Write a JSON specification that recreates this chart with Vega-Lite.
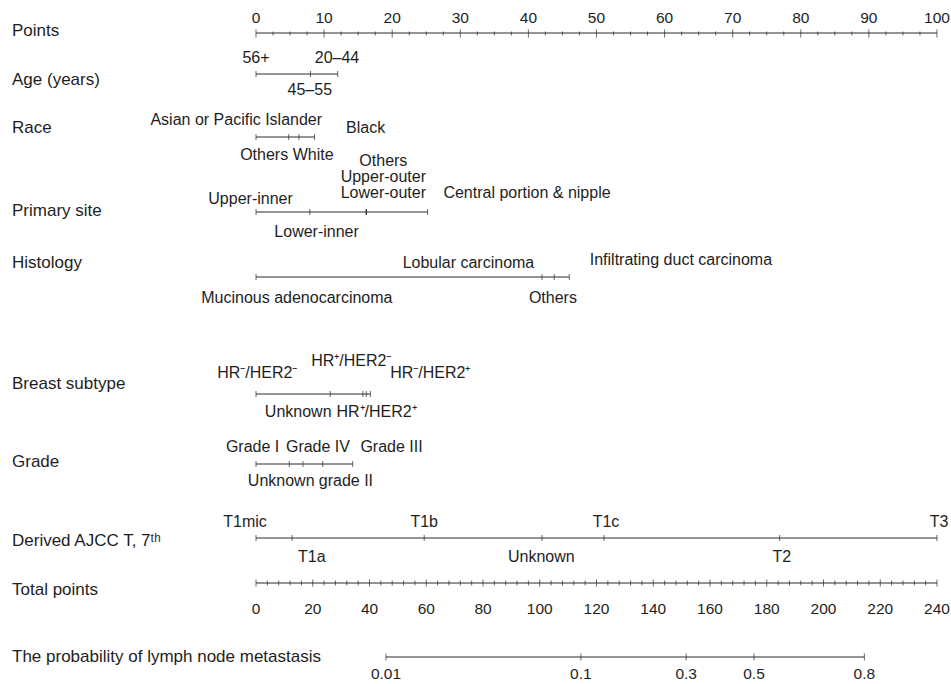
{
  "$schema": "https://vega.github.io/schema/vega-lite/v6.json",
  "width": 939,
  "height": 684,
  "autosize": "none",
  "padding": {"left": 12, "top": 0, "right": 0, "bottom": 0},
  "background": "white",
  "config": {
    "view": {"stroke": null},
    "text": {"font": "Liberation Sans", "color": "#1e1e1e", "baseline": "middle"},
    "rule": {"color": "#2a2a2a", "strokeWidth": 1},
    "tick": {"color": "#2a2a2a", "thickness": 1, "orient": "vertical"}
  },
  "datasets": {
    "rows": [
      {"var": "Points", "y": 33, "from": 0, "to": 100},
      {"var": "Age (years)", "y": 74, "from": 0, "to": 12},
      {"var": "Race", "y": 137, "from": 0, "to": 8.6},
      {"var": "Primary site", "y": 212, "from": 0, "to": 25.2},
      {"var": "Histology", "y": 277, "from": 0, "to": 46},
      {"var": "Breast subtype", "y": 394, "from": 0, "to": 16.8},
      {"var": "Grade", "y": 464, "from": 0, "to": 14.2},
      {"var": "Derived AJCC T, 7th", "y": 538, "from": 0, "to": 100}
    ],
    "total_rows": [
      {"var": "Total points", "y": 583, "from": 0, "to": 240},
      {"var": "The probability of lymph node metastasis", "y": 657, "from": 45.8, "to": 214.4}
    ],
    "names": [
      {"name": "Points", "y": 31},
      {"name": "Age (years)", "y": 80},
      {"name": "Race", "y": 128},
      {"name": "Primary site", "y": 211},
      {"name": "Histology", "y": 263},
      {"name": "Breast subtype", "y": 384},
      {"name": "Grade", "y": 462},
      {"name": "Derived AJCC T, 7ᵗʰ", "y": 541},
      {"name": "Total points", "y": 590},
      {"name": "The probability of lymph node metastasis", "y": 657}
    ],
    "levels": [
      {"var": "Age (years)", "level": "56+", "pts": 0},
      {"var": "Age (years)", "level": "45–55", "pts": 8},
      {"var": "Age (years)", "level": "20–44", "pts": 12},
      {"var": "Race", "level": "Asian or Pacific Islander", "pts": 0},
      {"var": "Race", "level": "Others", "pts": 4.8},
      {"var": "Race", "level": "White", "pts": 6.3},
      {"var": "Race", "level": "Black", "pts": 8.6},
      {"var": "Primary site", "level": "Upper-inner", "pts": 0},
      {"var": "Primary site", "level": "Lower-inner", "pts": 7.9},
      {"var": "Primary site", "level": "Others", "pts": 16.2},
      {"var": "Primary site", "level": "Upper-outer", "pts": 16.2},
      {"var": "Primary site", "level": "Lower-outer", "pts": 16.2},
      {"var": "Primary site", "level": "Central portion & nipple", "pts": 25.2},
      {"var": "Histology", "level": "Mucinous adenocarcinoma", "pts": 0},
      {"var": "Histology", "level": "Lobular carcinoma", "pts": 42},
      {"var": "Histology", "level": "Others", "pts": 43.8},
      {"var": "Histology", "level": "Infiltrating duct carcinoma", "pts": 46},
      {"var": "Breast subtype", "level": "HR⁻/HER2⁻", "pts": 0},
      {"var": "Breast subtype", "level": "Unknown", "pts": 10.9},
      {"var": "Breast subtype", "level": "HR⁺/HER2⁻", "pts": 15.7},
      {"var": "Breast subtype", "level": "HR⁺/HER2⁺", "pts": 16.2},
      {"var": "Breast subtype", "level": "HR⁻/HER2⁺", "pts": 16.8},
      {"var": "Grade", "level": "Grade I", "pts": 0},
      {"var": "Grade", "level": "Unknown", "pts": 4.9},
      {"var": "Grade", "level": "Grade IV", "pts": 6.9},
      {"var": "Grade", "level": "grade II", "pts": 9.8},
      {"var": "Grade", "level": "Grade III", "pts": 14.2},
      {"var": "Derived AJCC T, 7th", "level": "T1mic", "pts": 0},
      {"var": "Derived AJCC T, 7th", "level": "T1a", "pts": 5.3},
      {"var": "Derived AJCC T, 7th", "level": "T1b", "pts": 24.7},
      {"var": "Derived AJCC T, 7th", "level": "Unknown", "pts": 42},
      {"var": "Derived AJCC T, 7th", "level": "T1c", "pts": 51.1},
      {"var": "Derived AJCC T, 7th", "level": "T2", "pts": 76.9},
      {"var": "Derived AJCC T, 7th", "level": "T3", "pts": 100}
    ],
    "labels": [
      {"text": "56+", "lx": 0, "ly": 58},
      {"text": "20–44", "lx": 11.9, "ly": 58},
      {"text": "45–55", "lx": 7.9, "ly": 90},
      {"text": "Asian or Pacific Islander", "lx": -2.9, "ly": 120},
      {"text": "Black", "lx": 16.1, "ly": 128},
      {"text": "Others", "lx": 1.2, "ly": 155},
      {"text": "White", "lx": 8.4, "ly": 155},
      {"text": "Others", "lx": 18.7, "ly": 161},
      {"text": "Upper-outer", "lx": 18.7, "ly": 177},
      {"text": "Lower-outer", "lx": 18.7, "ly": 193},
      {"text": "Upper-inner", "lx": -0.8, "ly": 199},
      {"text": "Central portion & nipple", "lx": 39.8, "ly": 193},
      {"text": "Lower-inner", "lx": 8.9, "ly": 232},
      {"text": "Lobular carcinoma", "lx": 31.2, "ly": 263},
      {"text": "Infiltrating duct carcinoma", "lx": 62.4, "ly": 260},
      {"text": "Mucinous adenocarcinoma", "lx": 6.0, "ly": 298},
      {"text": "Others", "lx": 43.6, "ly": 298},
      {"text": "HR⁺/HER2⁻", "lx": 14.0, "ly": 361},
      {"text": "HR⁻/HER2⁻", "lx": 0.2, "ly": 373},
      {"text": "HR⁻/HER2⁺", "lx": 25.6, "ly": 373},
      {"text": "Unknown", "lx": 6.2, "ly": 412},
      {"text": "HR⁺/HER2⁺", "lx": 17.7, "ly": 412},
      {"text": "Grade I", "lx": -0.5, "ly": 447},
      {"text": "Grade IV", "lx": 9.1, "ly": 447},
      {"text": "Grade III", "lx": 19.9, "ly": 447},
      {"text": "Unknown", "lx": 3.7, "ly": 481},
      {"text": "grade II", "lx": 13.2, "ly": 481},
      {"text": "T1mic", "lx": -1.6, "ly": 522},
      {"text": "T1b", "lx": 24.7, "ly": 522},
      {"text": "T1c", "lx": 51.4, "ly": 522},
      {"text": "T3", "lx": 100.3, "ly": 522},
      {"text": "T1a", "lx": 8.2, "ly": 557},
      {"text": "Unknown", "lx": 41.9, "ly": 557},
      {"text": "T2", "lx": 77.2, "ly": 557}
    ],
    "point_ticks": [
      {"v": 0, "m": 1}, {"v": 2.5, "m": 0}, {"v": 5, "m": 0}, {"v": 7.5, "m": 0},
      {"v": 10, "m": 1}, {"v": 12.5, "m": 0}, {"v": 15, "m": 0}, {"v": 17.5, "m": 0},
      {"v": 20, "m": 1}, {"v": 22.5, "m": 0}, {"v": 25, "m": 0}, {"v": 27.5, "m": 0},
      {"v": 30, "m": 1}, {"v": 32.5, "m": 0}, {"v": 35, "m": 0}, {"v": 37.5, "m": 0},
      {"v": 40, "m": 1}, {"v": 42.5, "m": 0}, {"v": 45, "m": 0}, {"v": 47.5, "m": 0},
      {"v": 50, "m": 1}, {"v": 52.5, "m": 0}, {"v": 55, "m": 0}, {"v": 57.5, "m": 0},
      {"v": 60, "m": 1}, {"v": 62.5, "m": 0}, {"v": 65, "m": 0}, {"v": 67.5, "m": 0},
      {"v": 70, "m": 1}, {"v": 72.5, "m": 0}, {"v": 75, "m": 0}, {"v": 77.5, "m": 0},
      {"v": 80, "m": 1}, {"v": 82.5, "m": 0}, {"v": 85, "m": 0}, {"v": 87.5, "m": 0},
      {"v": 90, "m": 1}, {"v": 92.5, "m": 0}, {"v": 95, "m": 0}, {"v": 97.5, "m": 0},
      {"v": 100, "m": 1}
    ],
    "total_ticks": [
      {"v": 0, "m": 1}, {"v": 4, "m": 0}, {"v": 8, "m": 0}, {"v": 12, "m": 0}, {"v": 16, "m": 0},
      {"v": 20, "m": 1}, {"v": 24, "m": 0}, {"v": 28, "m": 0}, {"v": 32, "m": 0}, {"v": 36, "m": 0},
      {"v": 40, "m": 1}, {"v": 44, "m": 0}, {"v": 48, "m": 0}, {"v": 52, "m": 0}, {"v": 56, "m": 0},
      {"v": 60, "m": 1}, {"v": 64, "m": 0}, {"v": 68, "m": 0}, {"v": 72, "m": 0}, {"v": 76, "m": 0},
      {"v": 80, "m": 1}, {"v": 84, "m": 0}, {"v": 88, "m": 0}, {"v": 92, "m": 0}, {"v": 96, "m": 0},
      {"v": 100, "m": 1}, {"v": 104, "m": 0}, {"v": 108, "m": 0}, {"v": 112, "m": 0}, {"v": 116, "m": 0},
      {"v": 120, "m": 1}, {"v": 124, "m": 0}, {"v": 128, "m": 0}, {"v": 132, "m": 0}, {"v": 136, "m": 0},
      {"v": 140, "m": 1}, {"v": 144, "m": 0}, {"v": 148, "m": 0}, {"v": 152, "m": 0}, {"v": 156, "m": 0},
      {"v": 160, "m": 1}, {"v": 164, "m": 0}, {"v": 168, "m": 0}, {"v": 172, "m": 0}, {"v": 176, "m": 0},
      {"v": 180, "m": 1}, {"v": 184, "m": 0}, {"v": 188, "m": 0}, {"v": 192, "m": 0}, {"v": 196, "m": 0},
      {"v": 200, "m": 1}, {"v": 204, "m": 0}, {"v": 208, "m": 0}, {"v": 212, "m": 0}, {"v": 216, "m": 0},
      {"v": 220, "m": 1}, {"v": 224, "m": 0}, {"v": 228, "m": 0}, {"v": 232, "m": 0}, {"v": 236, "m": 0},
      {"v": 240, "m": 1}
    ],
    "prob": [
      {"p": "0.01", "tp": 45.8},
      {"p": "0.1", "tp": 114.5},
      {"p": "0.3", "tp": 151.6},
      {"p": "0.5", "tp": 175.5},
      {"p": "0.8", "tp": 214.4}
    ]
  },
  "layer": [
    {
      "layer": [
        {
          "data": {"name": "rows"},
          "mark": {"type": "rule"},
          "encoding": {
            "x": {"field": "from", "type": "quantitative", "scale": {"domain": [-35.83, 102.06], "nice": false, "zero": false}, "axis": null},
            "x2": {"field": "to"},
            "y": {"field": "y", "type": "quantitative", "scale": {"domain": [0, 684], "reverse": true, "nice": false, "zero": false}, "axis": null}
          }
        },
        {
          "data": {"name": "levels"},
          "transform": [{"lookup": "var", "from": {"data": {"name": "rows"}, "key": "var", "fields": ["y"]}}],
          "mark": {"type": "tick", "size": 6},
          "encoding": {
            "x": {"field": "pts", "type": "quantitative"},
            "y": {"field": "y", "type": "quantitative"}
          }
        },
        {
          "data": {"name": "point_ticks"},
          "transform": [{"filter": "datum.m == 1"}],
          "mark": {"type": "tick", "size": 8},
          "encoding": {
            "x": {"field": "v", "type": "quantitative"},
            "y": {"datum": 33.5}
          }
        },
        {
          "data": {"name": "point_ticks"},
          "transform": [{"filter": "datum.m != 1"}],
          "mark": {"type": "tick", "size": 4},
          "encoding": {
            "x": {"field": "v", "type": "quantitative"},
            "y": {"datum": 33.5}
          }
        },
        {
          "data": {"name": "point_ticks"},
          "transform": [{"filter": "datum.m == 1"}],
          "mark": {"type": "text", "fontSize": 15.5, "dy": -15},
          "encoding": {
            "x": {"field": "v", "type": "quantitative"},
            "y": {"datum": 33},
            "text": {"field": "v", "type": "nominal"}
          }
        },
        {
          "data": {"name": "labels"},
          "mark": {"type": "text", "fontSize": 16},
          "encoding": {
            "x": {"field": "lx", "type": "quantitative"},
            "y": {"field": "ly", "type": "quantitative"},
            "text": {"field": "text", "type": "nominal"}
          }
        }
      ]
    },
    {
      "layer": [
        {
          "data": {"name": "total_rows"},
          "mark": {"type": "rule"},
          "encoding": {
            "x": {"field": "from", "type": "quantitative", "scale": {"domain": [-85.99, 244.93], "nice": false, "zero": false}, "axis": null},
            "x2": {"field": "to"},
            "y": {"field": "y", "type": "quantitative"}
          }
        },
        {
          "data": {"name": "total_ticks"},
          "transform": [{"filter": "datum.m == 1"}],
          "mark": {"type": "tick", "size": 7},
          "encoding": {
            "x": {"field": "v", "type": "quantitative"},
            "y": {"datum": 583}
          }
        },
        {
          "data": {"name": "total_ticks"},
          "transform": [{"filter": "datum.m != 1"}],
          "mark": {"type": "tick", "size": 5},
          "encoding": {
            "x": {"field": "v", "type": "quantitative"},
            "y": {"datum": 583}
          }
        },
        {
          "data": {"name": "total_ticks"},
          "transform": [{"filter": "datum.m == 1"}],
          "mark": {"type": "text", "fontSize": 15.5, "dy": 26},
          "encoding": {
            "x": {"field": "v", "type": "quantitative"},
            "y": {"datum": 583},
            "text": {"field": "v", "type": "nominal"}
          }
        },
        {
          "data": {"name": "prob"},
          "mark": {"type": "tick", "size": 7},
          "encoding": {
            "x": {"field": "tp", "type": "quantitative"},
            "y": {"datum": 657}
          }
        },
        {
          "data": {"name": "prob"},
          "mark": {"type": "text", "fontSize": 15.5, "dy": 17},
          "encoding": {
            "x": {"field": "tp", "type": "quantitative"},
            "y": {"datum": 657},
            "text": {"field": "p", "type": "nominal"}
          }
        }
      ]
    },
    {
      "data": {"name": "names"},
      "mark": {"type": "text", "fontSize": 17, "align": "left"},
      "encoding": {
        "x": {"value": 0},
        "y": {"field": "y", "type": "quantitative"},
        "text": {"field": "name", "type": "nominal"}
      }
    }
  ],
  "resolve": {"scale": {"x": "independent"}}
}
